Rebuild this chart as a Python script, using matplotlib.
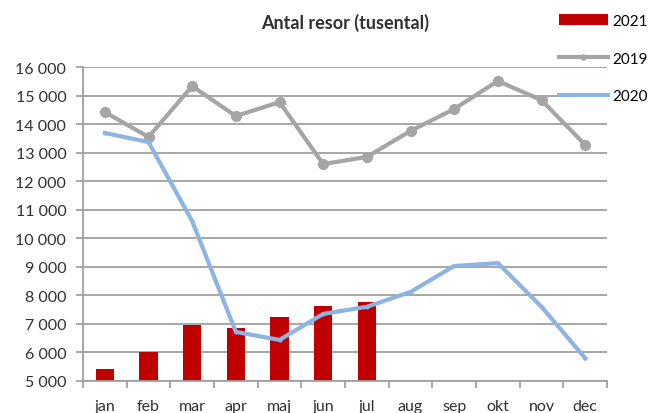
import matplotlib
matplotlib.use("Agg")
import matplotlib.pyplot as plt
import numpy as np
from matplotlib.ticker import FuncFormatter, FixedLocator

plt.rcParams['font.family'] = ['Lato', 'DejaVu Sans']

months = ['jan', 'feb', 'mar', 'apr', 'maj', 'jun', 'jul', 'aug', 'sep', 'okt', 'nov', 'dec']
resor_2019 = [14420, 13550, 15330, 14280, 14770, 12600, 12850, 13760, 14530, 15510, 14840, 13270]
resor_2020 = [13690, 13370, 10600, 6720, 6440, 7350, 7600, 8120, 9030, 9130, 7600, 5800]
resor_2021 = [5420, 6020, 6960, 6850, 7240, 7630, 7770]

fig = plt.figure(figsize=(6.6, 4.14), dpi=100)
ax = fig.add_axes([0.1258, 0.0773, 0.7939, 0.7584])

x = np.arange(len(months))
b21 = ax.bar(x[:len(resor_2021)], resor_2021, width=0.42, color='#c00000', label='2021', zorder=2)
l19, = ax.plot(x, resor_2019, color='#a5a5a5', lw=3, marker='o', ms=7, label='2019', zorder=3)
l20, = ax.plot(x, resor_2020, color='#8db4e2', lw=3, marker='o', ms=2, label='2020', zorder=4)

ax.set_xlim(-0.5, 11.5)
ax.set_ylim(5000, 16000)
ax.set_yticks(range(5000, 16001, 1000))
ax.yaxis.set_major_formatter(FuncFormatter(lambda v, p: f"{int(v):,}".replace(',', ' ')))
ax.grid(axis='y', color='#a0a0a0', lw=1.3, zorder=0)
ax.set_axisbelow(True)

ax.set_xticks(x)
ax.set_xticklabels(months)
ax.xaxis.set_minor_locator(FixedLocator(np.arange(-0.5, 12, 1)))
ax.tick_params(axis='x', which='major', length=0, pad=13, labelsize=11.5, colors='#303030')
ax.tick_params(axis='x', which='minor', length=5, width=1.3, color='#a0a0a0')
ax.tick_params(axis='y', length=5, width=1.3, pad=7, color='#a0a0a0', labelsize=11.5, labelcolor='#303030')

for s in ['top', 'right']:
    ax.spines[s].set_visible(False)
for s in ['left', 'bottom']:
    ax.spines[s].set_color('#a0a0a0')
    ax.spines[s].set_linewidth(1.3)

fig.text(0.523, 0.945, 'Antal resor (tusental)', ha='center', va='center',
         fontsize=13, fontweight='bold', color='#303030')

fig.legend([b21, l19, l20], ['2021', '2019', '2020'], loc='upper left',
           bbox_to_anchor=(0.84, 0.975), frameon=False, markerscale=0.5,
           fontsize=11, labelspacing=1.55, handlelength=3.2, handletextpad=0.3,
           borderaxespad=0.1, borderpad=0.2)

fig.savefig('out.png', dpi=100)
